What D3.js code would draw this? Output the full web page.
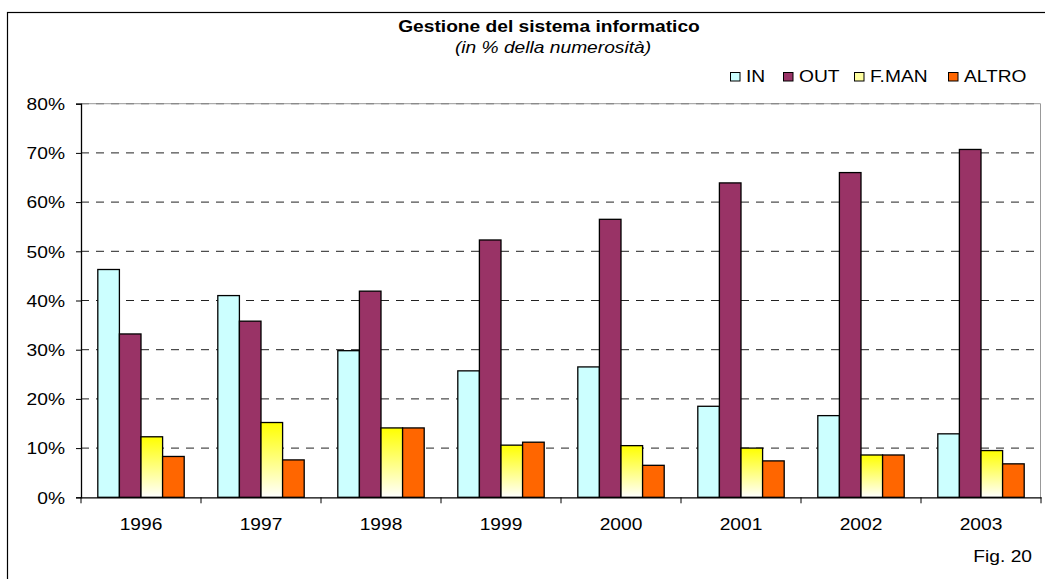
<!DOCTYPE html>
<html>
<head>
<meta charset="utf-8">
<script src="https://cdn.jsdelivr.net/npm/d3@7/dist/d3.min.js"></script>
<style>
  html, body { margin: 0; padding: 0; background: #fff; }
  svg { display: block; font-family: Arial, "Liberation Sans", sans-serif; }
</style>
</head>
<body>
<svg id="chart" width="1045" height="579"></svg>
<script>
// Categories and series (percent of respondents)
const years = ["1996", "1997", "1998", "1999", "2000", "2001", "2002", "2003"];
const seriesNames = ["IN", "OUT", "F.MAN", "ALTRO"];
const valuesIN    = [46.3, 41.0, 29.8, 25.7, 26.5, 18.5, 16.6, 12.9];
const valuesOUT   = [33.2, 35.8, 41.9, 52.3, 56.5, 63.9, 66.0, 70.7];
const valuesFMAN  = [12.3, 15.2, 14.1, 10.6, 10.5, 10.0, 8.6, 9.5];
const valuesALTRO = [8.3, 7.6, 14.1, 11.2, 6.5, 7.4, 8.6, 6.8];
const yTicks = [0, 10, 20, 30, 40, 50, 60, 70, 80];

const title = "Gestione del sistema informatico";
const subtitle = "(in % della numerosità)";
const figLabel = "Fig. 20";

const seriesValues = [valuesIN, valuesOUT, valuesFMAN, valuesALTRO];
const fills = ["#CCFFFF", "#993366", "url(#gradYellow)", "#FF6600"];
const legendFills = ["#CCFFFF", "#993366", "#FFFFA0", "#FF6600"];

const svg = d3.select("#chart");
const SX = 1.2; // horizontal stretch applied to all text

// Outer frame
svg.append("rect")
  .attr("x", 7.5).attr("y", 12.5)
  .attr("width", 1060).attr("height", 600)
  .attr("fill", "#fff").attr("stroke", "#000").attr("stroke-width", 1.2);

// Gradient for F.MAN bars
const defs = svg.append("defs");
const g1 = defs.append("linearGradient").attr("id", "gradYellow")
  .attr("x1", 0).attr("y1", 0).attr("x2", 0).attr("y2", 1);
g1.append("stop").attr("offset", "0%").attr("stop-color", "#FFFF00");
g1.append("stop").attr("offset", "20%").attr("stop-color", "#FFFF33");
g1.append("stop").attr("offset", "100%").attr("stop-color", "#FFFFFF");

const plot = { left: 81, right: 1041, top: 103.7, bottom: 497.3 };

const x = d3.scaleBand().domain(years).range([plot.left, plot.right]).padding(0);
const xs = d3.scaleBand().domain(seriesNames).range([0, x.bandwidth()])
  .paddingInner(0).paddingOuter(0.778);
const y = d3.scaleLinear().domain([0, 80]).range([plot.bottom, plot.top]);

// Horizontal dashed gridlines
svg.append("g").selectAll("line")
  .data(yTicks.filter(v => v > 0))
  .join("line")
  .attr("x1", plot.left).attr("x2", plot.right)
  .attr("y1", d => y(d)).attr("y2", d => y(d))
  .attr("stroke", "#222").attr("stroke-width", 1)
  .attr("stroke-dasharray", "8,7");

// Plot area border (top and right)
svg.append("path")
  .attr("d", `M${plot.left},${plot.top}H${plot.right - 0.5}V${plot.bottom}`)
  .attr("fill", "none").attr("stroke", "#999").attr("stroke-width", 1);

// Bars
const groups = svg.append("g").selectAll("g")
  .data(years)
  .join("g")
  .attr("transform", d => `translate(${x(d)},0)`);

groups.selectAll("rect")
  .data((d, i) => seriesNames.map((s, k) => ({ s, k, v: seriesValues[k][i] })))
  .join("rect")
  .attr("x", d => xs(d.s))
  .attr("y", d => y(d.v))
  .attr("width", xs.bandwidth())
  .attr("height", d => y(0) - y(d.v))
  .attr("fill", d => fills[d.k])
  .attr("stroke", "#000").attr("stroke-width", 1.3);

// Y axis
const yAxis = svg.append("g")
  .attr("transform", `translate(${plot.left},0)`)
  .call(d3.axisLeft(y).tickValues(yTicks).tickSize(5).tickFormat(d => d + "%"));
yAxis.select(".domain").attr("stroke", "#000").attr("stroke-width", 1.3);
yAxis.selectAll(".tick line").attr("stroke", "#000");
yAxis.selectAll(".tick text")
  .attr("x", 0).attr("dy", "0.36em")
  .attr("transform", `translate(-16,0) scale(${SX},1)`)
  .attr("font-size", 16).attr("fill", "#000")
  .attr("font-family", "Arial, 'Liberation Sans', sans-serif");

// X axis (labels at band centres, ticks at band boundaries)
const xAxis = svg.append("g")
  .attr("transform", `translate(0,${plot.bottom})`)
  .call(d3.axisBottom(x).tickSize(0).tickSizeOuter(0));
xAxis.select(".domain").attr("stroke", "#000").attr("stroke-width", 1.3);
xAxis.selectAll(".tick text")
  .attr("y", 0).attr("dy", 0)
  .attr("transform", `translate(0,33) scale(${SX},1)`)
  .attr("font-size", 16).attr("fill", "#000")
  .attr("font-family", "Arial, 'Liberation Sans', sans-serif");

const boundaries = years.map(d => x(d)).concat([x.range()[1]]);
xAxis.append("g").selectAll("line")
  .data(boundaries)
  .join("line")
  .attr("x1", d => d).attr("x2", d => d)
  .attr("y1", 0).attr("y2", 6)
  .attr("stroke", "#000").attr("stroke-width", 1);

// Helper for stretched text
function stretchedText(tx, ty, str, opts) {
  const t = svg.append("text")
    .attr("transform", `translate(${tx},${ty}) scale(${SX},1)`)
    .attr("font-size", opts.size || 16)
    .attr("text-anchor", opts.anchor || "start")
    .attr("fill", "#000")
    .text(str);
  if (opts.weight) t.attr("font-weight", opts.weight);
  if (opts.style) t.attr("font-style", opts.style);
  return t;
}

// Title and subtitle
stretchedText(549, 32, title, { anchor: "middle", weight: "bold" });
stretchedText(553, 53, subtitle, { anchor: "middle", style: "italic" });

// Legend
const legendX = [730, 783, 854, 948];
seriesNames.forEach((s, i) => {
  svg.append("rect")
    .attr("x", legendX[i] + 0.5).attr("y", 72.5)
    .attr("width", 9.5).attr("height", 8.5)
    .attr("fill", legendFills[i]).attr("stroke", "#000").attr("stroke-width", 1);
  stretchedText(legendX[i] + 16, 81.5, s, {});
});

// Figure label
stretchedText(1032, 562, figLabel, { anchor: "end" });
</script>
</body>
</html>
